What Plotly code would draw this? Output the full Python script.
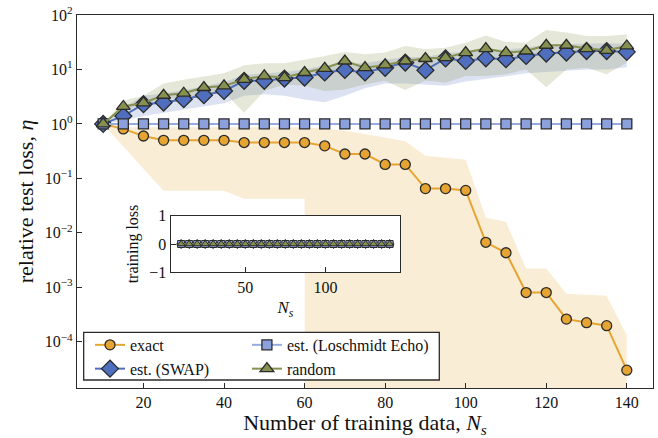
import plotly.graph_objects as go

# ---- data -------------------------------------------------------------
n_train = [10, 15, 20, 25, 30, 35, 40, 45, 50, 55, 60, 65, 70, 75,
           80, 85, 90, 95, 100, 105, 110, 115, 120, 125, 130, 135, 140]

exact_mean = [1.0, 0.81, 0.60, 0.50, 0.50, 0.50, 0.50, 0.455, 0.455, 0.455,
              0.455, 0.395, 0.28, 0.28, 0.18, 0.18, 0.065, 0.065, 0.060,
              0.0067, 0.0043, 0.0008, 0.0008, 0.00026, 0.000224, 0.000197,
              0.00003]
exact_hi = [1.0, 0.87, 0.87, 0.87, 0.87, 0.87, 0.87, 0.87, 0.87, 0.87,
            0.87, 0.82, 0.75, 0.65, 0.55, 0.48, 0.26, 0.24, 0.22, 0.019,
            0.016, 0.0022, 0.0022, 0.00076, 0.00074, 0.0007, 0.00013]
# lower edge falls to zero (or below) from N_s = 65 on
exact_lo = [1.0, 0.39, 0.15, 0.059, 0.059, 0.059, 0.059, 0.042, 0.042,
            0.042, 0.042, 0.0, 0.0, 0.0, 0.0, 0.0, 0.0, 0.0, 0.0, 0.0, 0.0,
            0.0, 0.0, 0.0, 0.0, 0.0, 0.0]

swap_mean = [1.0, 1.40, 2.3, 2.47, 2.84, 3.36, 4.03, 6.2, 6.2, 6.8, 7.1,
             8.8, 9.8, 8.8, 10.7, 13.4, 9.7, 15.9, 14.3, 16.0, 15.4, 17.7,
             19.6, 20.4, 21.8, 21.8, 21.0]
swap_hi = [1.0, 2.0, 3.3, 3.6, 4.2, 5.0, 5.8, 8.0, 8.5, 9.0, 10.0, 12.0,
           13.0, 13.0, 15.0, 17.0, 17.0, 20.0, 21.0, 24.0, 23.0, 25.0, 28.0,
           29.0, 30.0, 30.0, 30.0]
swap_lo = [1.0, 1.15, 1.4, 1.6, 1.8, 2.1, 2.4, 3.3, 3.5, 3.3, 2.8, 2.5,
           3.3, 4.5, 5.5, 5.5, 5.2, 5.0, 6.0, 6.8, 7.5, 8.5, 9.0, 9.5, 10.0,
           10.0, 11.0]

echo_mean = [1.0, 1.0, 1.0, 1.0, 1.0, 1.0, 1.0, 1.0, 1.0, 1.0, 1.0, 1.0,
             1.0, 1.0, 1.0, 1.0, 1.0, 1.0, 1.0, 1.0, 1.0, 1.0, 1.0, 1.0,
             1.0, 1.0, 1.0]

random_mean = [1.0, 2.09, 2.43, 3.36, 3.66, 4.66, 4.98, 6.6, 7.6, 7.1, 8.8,
               10.5, 14.3, 10.8, 12.1, 14.3, 15.9, 16.5, 20.4, 24.2, 20.4,
               21.8, 27.8, 27.8, 24.2, 22.5, 27.0]
random_hi = [1.0, 2.7, 3.3, 5.5, 6.5, 7.5, 8.5, 12.0, 13.0, 13.0, 15.0,
             17.7, 21.0, 19.0, 20.4, 27.0, 23.5, 25.0, 31.0, 42.0, 32.0,
             31.0, 53.0, 47.5, 41.0, 41.0, 44.0]
random_lo = [1.0, 1.7, 2.3, 2.8, 3.0, 3.3, 3.8, 1.6, 4.0, 5.3, 5.0, 4.0,
             4.3, 5.3, 6.2, 4.2, 6.3, 5.7, 7.6, 7.6, 8.2, 10.0, 4.7, 10.0,
             10.8, 8.2, 13.4]

# training loss shown in the inset
train_exact = [0.0, 0.0, 0.0, 0.0, 0.0, 0.0, 0.0, 0.0, 0.0, 0.0, 0.0, 0.0,
               0.0, 0.0, 0.0, 0.0, 0.0, 0.0, 0.0, 0.0, 0.0, 0.0, 0.0, 0.0,
               0.0, 0.0, 0.0]
train_swap = [0.0, 0.0, 0.0, 0.0, 0.0, 0.0, 0.0, 0.0, 0.0, 0.0, 0.0, 0.0,
              0.0, 0.0, 0.0, 0.0, 0.0, 0.0, 0.0, 0.0, 0.0, 0.0, 0.0, 0.0,
              0.0, 0.0, 0.0]
train_echo = [0.0, 0.0, 0.0, 0.0, 0.0, 0.0, 0.0, 0.0, 0.0, 0.0, 0.0, 0.0,
              0.0, 0.0, 0.0, 0.0, 0.0, 0.0, 0.0, 0.0, 0.0, 0.0, 0.0, 0.0,
              0.0, 0.0, 0.0]
train_random = [0.0, 0.0, 0.0, 0.0, 0.0, 0.0, 0.0, 0.0, 0.0, 0.0, 0.0,
                0.0, 0.0, 0.0, 0.0, 0.0, 0.0, 0.0, 0.0, 0.0, 0.0, 0.0,
                0.0, 0.0, 0.0, 0.0, 0.0]

y_tick_vals = [1e-4, 1e-3, 1e-2, 1e-1, 1e0, 1e1, 1e2]
y_tick_text = ["10<sup>−4</sup>", "10<sup>−3</sup>", "10<sup>−2</sup>",
               "10<sup>−1</sup>", "10<sup>0</sup>", "10<sup>1</sup>",
               "10<sup>2</sup>"]
x_tick_vals = [20, 40, 60, 80, 100, 120, 140]

# ---- styling ----------------------------------------------------------
FONT = "Liberation Serif"
INK = "#2b2b2b"
C_EXACT = "#E6A532"
C_SWAP = "#4F6EBE"
C_ECHO = "#8CA0DC"
C_RAND = "#87914F"
LOG_FLOOR = 1e-300   # log axis cannot show zero; clip negative/zero bounds


def rgba(hex_color, a):
    h = hex_color.lstrip("#")
    r, g, b = int(h[0:2], 16), int(h[2:4], 16), int(h[4:6], 16)
    return f"rgba({r},{g},{b},{a})"


def font(size):
    return dict(family=FONT, size=size, color="#111")


def band(lo, hi, color, alpha):
    lo_c = [v if v > 0 else LOG_FLOOR for v in lo]
    return go.Scatter(
        x=n_train + n_train[::-1], y=hi + lo_c[::-1],
        fill="toself", fillcolor=rgba(color, alpha),
        line=dict(width=0), mode="lines", hoverinfo="skip",
        showlegend=False, xaxis="x", yaxis="y")


fig = go.Figure()
fig.add_trace(band(exact_lo, exact_hi, C_EXACT, 0.2))
fig.add_trace(band(swap_lo, swap_hi, C_SWAP, 0.2))
fig.add_trace(band(random_lo, random_hi, C_RAND, 0.22))

series = [
    ("exact", exact_mean, C_EXACT, C_EXACT, "circle", 10, "legend"),
    ("est. (SWAP)", swap_mean, C_SWAP, C_SWAP, "diamond", 13, "legend"),
    ("est. (Loschmidt Echo)", echo_mean, C_ECHO, "#97ABE0", "square", 10,
     "legend2"),
    ("random", random_mean, C_RAND, C_RAND, "triangle-up", 12, "legend2"),
]
for name, ys, fill, lc, sym, size, lg in series:
    fig.add_trace(go.Scatter(
        x=n_train, y=ys, name=name, mode="lines+markers",
        line=dict(color=lc, width=2),
        marker=dict(symbol=sym, size=size, color=fill,
                    line=dict(color=INK, width=1.3)),
        legend=lg, xaxis="x", yaxis="y"))

# inset: training loss
inset = [
    (train_exact, C_EXACT, "circle"),
    (train_swap, C_SWAP, "diamond"),
    (train_echo, C_ECHO, "square"),
    (train_random, C_RAND, "triangle-up"),
]
for ys, col, sym in inset:
    fig.add_trace(go.Scatter(
        x=n_train, y=ys, mode="lines+markers", showlegend=False,
        line=dict(color=col, width=1.5),
        marker=dict(symbol=sym, size=7, color=col,
                    line=dict(color=INK, width=1)),
        xaxis="x2", yaxis="y2"))

axis_common = dict(showline=True, linecolor=INK, linewidth=1.3, mirror=True,
                   ticks="inside", ticklen=5, tickwidth=1.2, tickcolor=INK,
                   showgrid=False, zeroline=False)

# pixel geometry of plot area: l=77, r=653, t=15, b=388
fig.update_layout(
    width=658, height=438,
    margin=dict(l=77, r=5, t=15, b=50),
    paper_bgcolor="white", plot_bgcolor="white",
    font=font(15),
    showlegend=True,
    xaxis=dict(range=[3.5, 146.5], tickvals=x_tick_vals,
               title=dict(text="Number of training data, <i>N<sub>s</sub></i>",
                          font=font(22), standoff=3),
               tickfont=font(16), **axis_common),
    yaxis=dict(type="log", range=[-4.85, 2.0], tickvals=y_tick_vals,
               ticktext=y_tick_text,
               title=dict(text="relative test loss, <i>η</i>",
                          font=font(22), standoff=5),
               tickfont=font(16), **axis_common),
    xaxis2=dict(domain=[0.1627, 0.5608], anchor="y2", range=[3.5, 146.5],
                tickvals=[50, 100],
                title=dict(text="<i>N<sub>s</sub></i>", font=font(17),
                           standoff=6),
                tickfont=font(16), **axis_common),
    yaxis2=dict(domain=[0.3102, 0.4619], anchor="x2", range=[-1, 1],
                tickvals=[-1, 0, 1], ticktext=["−1", "0", "1"],
                title=dict(text="training loss", font=font(16),
                           standoff=6),
                tickfont=font(16), **axis_common),
    legend=dict(x=0.0226, y=0.161, xanchor="left", yanchor="top",
                bgcolor="rgba(0,0,0,0)", font=font(16),
                tracegroupgap=0, itemwidth=30),
    legend2=dict(x=0.295, y=0.161, xanchor="left", yanchor="top",
                 bgcolor="rgba(0,0,0,0)", font=font(16),
                 tracegroupgap=0, itemwidth=30),
    shapes=[dict(type="rect", xref="paper", yref="paper",
                 x0=0.0116, x1=0.629, y0=0.0214, y1=0.149,
                 fillcolor="white", line=dict(color=INK, width=1.3),
                 layer="above")],
)

fig.write_html("out.html")
